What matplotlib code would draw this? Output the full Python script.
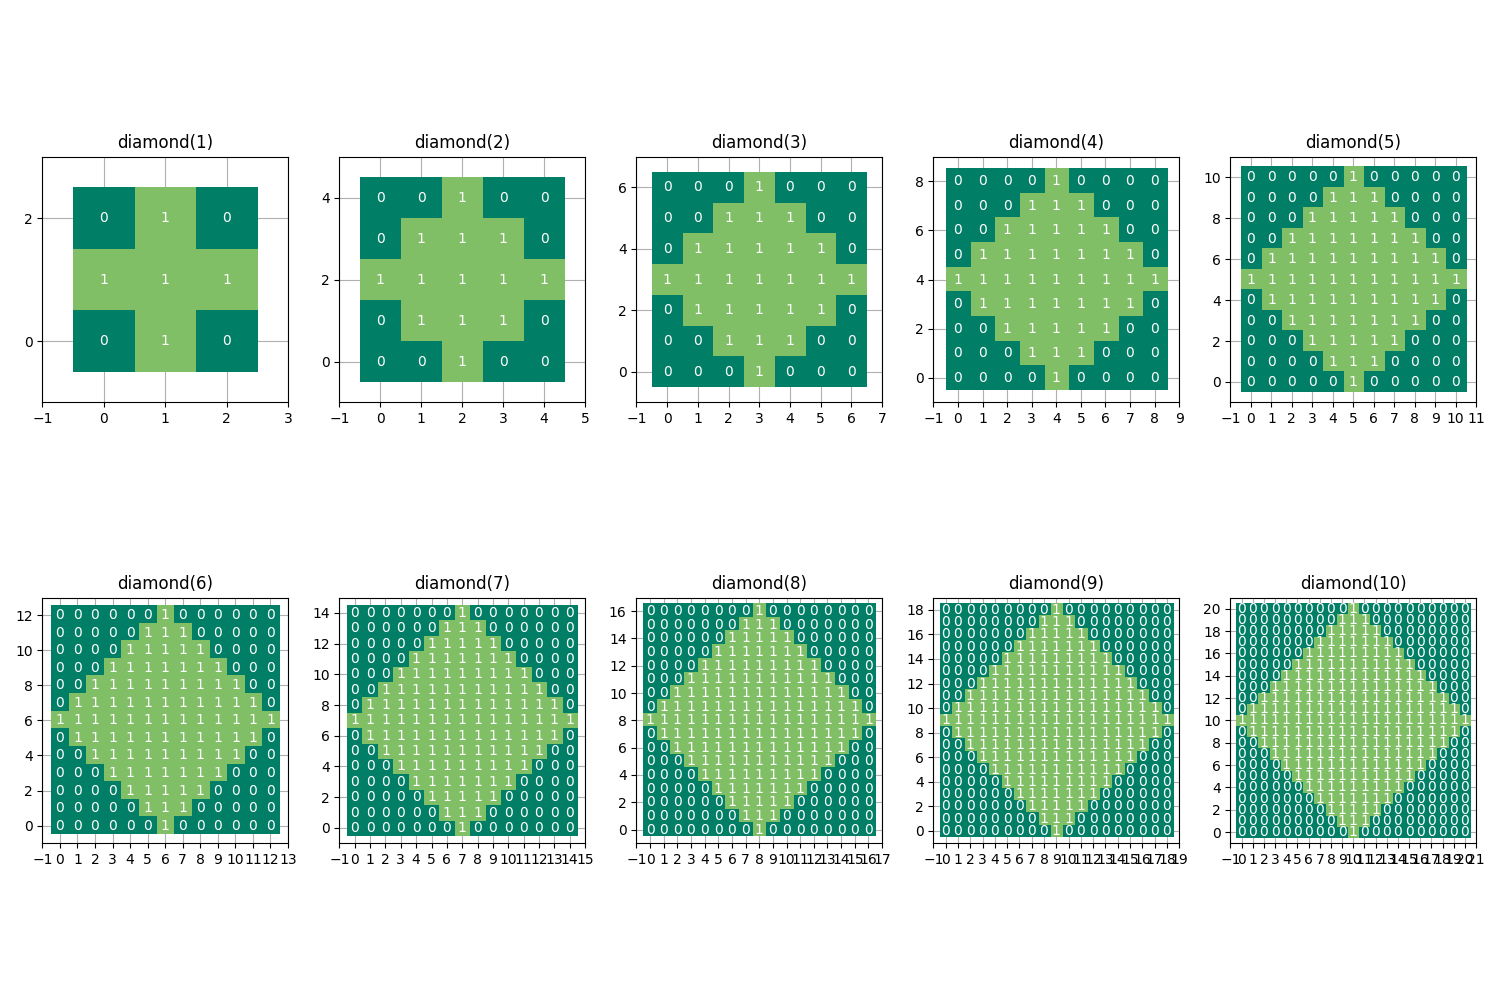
import matplotlib
matplotlib.use("Agg")
import matplotlib.pyplot as plt
import numpy as np

# number of ones in each row of the footprint (rows are centred)
radii = [1, 2, 3, 4, 5, 6, 7, 8, 9, 10]
ones_d1 = [1, 3, 1]
ones_d2 = [1, 3, 5, 3, 1]
ones_d3 = [1, 3, 5, 7, 5, 3, 1]
ones_d4 = [1, 3, 5, 7, 9, 7, 5, 3, 1]
ones_d5 = [1, 3, 5, 7, 9, 11, 9, 7, 5, 3, 1]
ones_d6 = [1, 3, 5, 7, 9, 11, 13, 11, 9, 7, 5, 3, 1]
ones_d7 = [1, 3, 5, 7, 9, 11, 13, 15, 13, 11, 9, 7, 5, 3, 1]
ones_d8 = [1, 3, 5, 7, 9, 11, 13, 15, 17, 15, 13, 11, 9, 7, 5, 3, 1]
ones_d9 = [1, 3, 5, 7, 9, 11, 13, 15, 17, 19, 17, 15, 13, 11, 9, 7, 5, 3, 1]
ones_d10 = [1, 3, 5, 7, 9, 11, 13, 15, 17, 19, 21, 19, 17, 15, 13, 11, 9, 7, 5, 3, 1]
row_ones = [ones_d1, ones_d2, ones_d3, ones_d4, ones_d5,
            ones_d6, ones_d7, ones_d8, ones_d9, ones_d10]
titles = [f"diamond({r})" for r in radii]


def build_footprint(ones):
    n = len(ones)
    struc = np.zeros((n, n), dtype=int)
    for i, k in enumerate(ones):
        start = (n - k) // 2
        struc[i, start:start + k] = 1
    return struc


fig, axes = plt.subplots(2, 5, figsize=(15, 10))

for ax, title, ones in zip(axes.flat, titles, row_ones):
    struc = build_footprint(ones)
    n = struc.shape[0]
    ax.imshow(struc, cmap="summer", vmin=0, vmax=2, origin="lower", zorder=2)
    for x in range(n):
        for y in range(n):
            ax.text(y, x, str(struc[x, y]), ha="center", va="center",
                    color="white", zorder=3)
    ax.set_xlim(-1, n)
    ax.set_ylim(-1, n)
    ax.set_xticks(np.arange(-1, n + 1))
    ax.set_yticks(np.arange(0, n, 2))
    ax.grid(True)
    ax.set_title(title)

fig.tight_layout()
plt.savefig("out.png", dpi=100)
